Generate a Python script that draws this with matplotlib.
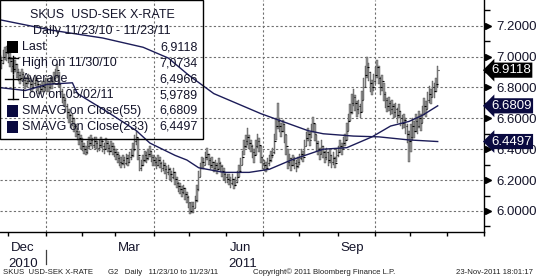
import numpy as np
import pandas as pd
import matplotlib
matplotlib.use("Agg")
import matplotlib.pyplot as plt
from matplotlib.patches import Rectangle

plt.rcParams['font.family'] = ['Liberation Sans', 'DejaVu Sans']

# daily bars 11/23/10 - 11/23/11 (weekdays)
close = [
    6.93, 6.98, 6.96, 7.00, 7.03, 7.02,
    7.00, 6.97, 6.94, 6.92, 6.95, 6.90, 6.88, 6.86, 6.89, 6.85, 6.83, 6.84, 6.86, 6.82, 6.80, 6.83, 6.85, 6.82, 6.80, 6.79, 6.81, 6.80, 6.82,
    6.82, 6.80, 6.84, 6.83, 6.86, 6.88, 6.91, 6.82, 6.78, 6.74, 6.72, 6.68, 6.64, 6.62, 6.58, 6.60, 6.55, 6.52, 6.50, 6.47, 6.45,
    6.42, 6.40, 6.38, 6.42, 6.44, 6.46, 6.43, 6.45, 6.44, 6.41, 6.43, 6.45, 6.42, 6.40, 6.44, 6.41, 6.39, 6.42, 6.40, 6.38,
    6.37, 6.34, 6.32, 6.31, 6.33, 6.31, 6.34, 6.32, 6.35, 6.36, 6.40, 6.45, 6.48, 6.36, 6.28, 6.30, 6.33, 6.36, 6.34, 6.37, 6.39, 6.35, 6.33,
    6.32, 6.30, 6.33, 6.31, 6.28, 6.30, 6.27, 6.25, 6.27, 6.24, 6.22, 6.25, 6.21, 6.18, 6.16, 6.14, 6.12, 6.15, 6.11, 6.09, 6.06,
    6.00, 6.03, 6.02, 6.07, 6.14, 6.22, 6.28, 6.32, 6.30, 6.35, 6.37, 6.33, 6.30, 6.32, 6.28, 6.30, 6.27, 6.31, 6.29, 6.26, 6.24, 6.22,
    6.21, 6.20, 6.18, 6.21, 6.17, 6.19, 6.22, 6.26, 6.30, 6.35, 6.42, 6.45, 6.48, 6.44, 6.42, 6.38, 6.36, 6.42, 6.45, 6.43, 6.35, 6.31,
    6.30, 6.28, 6.31, 6.33, 6.36, 6.38, 6.45, 6.55, 6.58, 6.55, 6.52, 6.56, 6.50, 6.42, 6.32, 6.34, 6.30, 6.33, 6.31, 6.29, 6.32,
    6.34, 6.37, 6.35, 6.42, 6.47, 6.50, 6.46, 6.52, 6.57, 6.50, 6.44, 6.40, 6.37, 6.42, 6.38, 6.35, 6.38, 6.33, 6.36, 6.32, 6.34, 6.31, 6.36,
    6.38, 6.42, 6.40, 6.44, 6.46, 6.52, 6.58, 6.64, 6.70, 6.74, 6.70, 6.66, 6.68, 6.64, 6.72, 6.80, 6.88, 6.93, 6.90, 6.83, 6.80, 6.84,
    6.88, 6.93, 6.86, 6.80, 6.84, 6.76, 6.72, 6.68, 6.70, 6.66, 6.68, 6.64, 6.66, 6.62, 6.65, 6.60, 6.57, 6.59, 6.55, 6.50, 6.45,
    6.48, 6.55, 6.52, 6.58, 6.55, 6.60, 6.57, 6.63, 6.68, 6.66, 6.72, 6.76, 6.74, 6.80, 6.78, 6.82, 6.9118,
]
high = [
    6.97, 7.01, 7.00, 7.04, 7.06, 7.07,
    7.04, 7.02, 6.99, 6.96, 6.98, 6.95, 6.92, 6.90, 6.92, 6.90, 6.87, 6.87, 6.89, 6.87, 6.84, 6.86, 6.88, 6.86, 6.84, 6.82, 6.84, 6.84, 6.86,
    6.86, 6.84, 6.87, 6.87, 6.90, 6.92, 6.95, 6.90, 6.83, 6.79, 6.76, 6.73, 6.69, 6.66, 6.63, 6.63, 6.60, 6.56, 6.54, 6.52, 6.49,
    6.47, 6.44, 6.42, 6.45, 6.48, 6.49, 6.47, 6.48, 6.48, 6.45, 6.46, 6.48, 6.46, 6.44, 6.47, 6.45, 6.43, 6.45, 6.44, 6.42,
    6.40, 6.38, 6.36, 6.35, 6.36, 6.35, 6.37, 6.36, 6.38, 6.40, 6.44, 6.49, 6.52, 6.47, 6.35, 6.33, 6.36, 6.39, 6.38, 6.40, 6.42, 6.39, 6.36,
    6.35, 6.34, 6.36, 6.35, 6.32, 6.33, 6.31, 6.29, 6.30, 6.28, 6.26, 6.28, 6.25, 6.22, 6.19, 6.18, 6.16, 6.17, 6.15, 6.12, 6.10,
    6.05, 6.06, 6.06, 6.10, 6.17, 6.26, 6.31, 6.35, 6.34, 6.38, 6.41, 6.37, 6.34, 6.35, 6.32, 6.33, 6.31, 6.34, 6.32, 6.30, 6.28, 6.25,
    6.24, 6.24, 6.22, 6.24, 6.21, 6.22, 6.26, 6.30, 6.34, 6.39, 6.46, 6.49, 6.54, 6.49, 6.46, 6.43, 6.40, 6.46, 6.50, 6.47, 6.42, 6.35,
    6.33, 6.32, 6.34, 6.36, 6.39, 6.41, 6.50, 6.60, 6.70, 6.60, 6.57, 6.59, 6.56, 6.49, 6.40, 6.37, 6.34, 6.36, 6.35, 6.33, 6.35,
    6.37, 6.40, 6.39, 6.46, 6.51, 6.54, 6.51, 6.56, 6.61, 6.56, 6.49, 6.45, 6.41, 6.46, 6.42, 6.39, 6.41, 6.38, 6.40, 6.36, 6.38, 6.35, 6.40,
    6.42, 6.46, 6.44, 6.48, 6.50, 6.57, 6.63, 6.69, 6.76, 6.79, 6.75, 6.71, 6.72, 6.69, 6.78, 6.86, 6.94, 7.00, 6.96, 6.90, 6.85, 6.89,
    6.93, 6.98, 6.94, 6.87, 6.88, 6.83, 6.77, 6.73, 6.74, 6.71, 6.72, 6.69, 6.70, 6.67, 6.69, 6.65, 6.62, 6.63, 6.60, 6.56, 6.52,
    6.56, 6.60, 6.58, 6.63, 6.61, 6.65, 6.63, 6.68, 6.73, 6.71, 6.77, 6.81, 6.79, 6.84, 6.83, 6.86, 6.94,
]
low = [
    6.88, 6.92, 6.92, 6.95, 6.98, 6.97,
    6.96, 6.93, 6.90, 6.88, 6.90, 6.86, 6.84, 6.82, 6.84, 6.81, 6.79, 6.80, 6.82, 6.78, 6.77, 6.79, 6.81, 6.78, 6.76, 6.76, 6.77, 6.77, 6.78,
    6.77, 6.77, 6.79, 6.79, 6.82, 6.84, 6.86, 6.80, 6.75, 6.70, 6.68, 6.64, 6.60, 6.57, 6.54, 6.55, 6.51, 6.48, 6.46, 6.43, 6.40,
    6.39, 6.37, 6.36, 6.37, 6.40, 6.42, 6.40, 6.41, 6.40, 6.38, 6.39, 6.41, 6.38, 6.37, 6.40, 6.38, 6.36, 6.38, 6.36, 6.35,
    6.33, 6.31, 6.29, 6.28, 6.30, 6.28, 6.30, 6.29, 6.31, 6.33, 6.35, 6.39, 6.43, 6.33, 6.26, 6.26, 6.29, 6.32, 6.31, 6.33, 6.35, 6.32, 6.29,
    6.29, 6.27, 6.29, 6.28, 6.25, 6.26, 6.24, 6.21, 6.23, 6.20, 6.19, 6.21, 6.17, 6.15, 6.12, 6.11, 6.09, 6.11, 6.07, 6.05, 6.02,
    5.98, 5.99, 5.99, 6.02, 6.06, 6.13, 6.22, 6.27, 6.27, 6.30, 6.33, 6.30, 6.27, 6.28, 6.25, 6.26, 6.24, 6.27, 6.25, 6.22, 6.20, 6.18,
    6.18, 6.17, 6.15, 6.17, 6.14, 6.16, 6.18, 6.22, 6.26, 6.30, 6.36, 6.41, 6.43, 6.40, 6.38, 6.34, 6.31, 6.36, 6.41, 6.38, 6.31, 6.27,
    6.26, 6.25, 6.27, 6.29, 6.32, 6.34, 6.37, 6.46, 6.53, 6.51, 6.48, 6.51, 6.44, 6.36, 6.27, 6.29, 6.26, 6.29, 6.27, 6.25, 6.28,
    6.30, 6.33, 6.32, 6.36, 6.42, 6.45, 6.42, 6.47, 6.51, 6.45, 6.39, 6.36, 6.33, 6.37, 6.34, 6.31, 6.33, 6.29, 6.31, 6.28, 6.30, 6.28, 6.32,
    6.35, 6.38, 6.36, 6.40, 6.42, 6.46, 6.52, 6.58, 6.63, 6.68, 6.65, 6.61, 6.63, 6.60, 6.64, 6.72, 6.80, 6.86, 6.84, 6.77, 6.75, 6.78,
    6.82, 6.86, 6.82, 6.75, 6.78, 6.71, 6.67, 6.64, 6.65, 6.62, 6.63, 6.60, 6.61, 6.57, 6.60, 6.55, 6.53, 6.54, 6.50, 6.44, 6.32,
    6.38, 6.46, 6.47, 6.51, 6.50, 6.54, 6.52, 6.57, 6.62, 6.61, 6.66, 6.70, 6.69, 6.74, 6.73, 6.77, 6.80,
]

# moving averages, points (bar index, value)
sma55_idx = [0, 16, 29, 44, 47, 65, 82, 90, 105, 112, 119, 134, 149, 161, 174, 193, 207, 222, 233, 244, 252, 261]
sma55_val = [6.80, 6.78, 6.82, 6.83, 6.76, 6.64, 6.52, 6.44, 6.36, 6.33, 6.28, 6.25, 6.25, 6.27, 6.33, 6.40, 6.41,
             6.48, 6.55, 6.58, 6.62, 6.6809]
sma233_idx = [0, 32, 62, 86, 101, 113, 128, 156, 184, 193, 211, 226, 244, 261]
sma233_val = [7.24, 7.17, 7.12, 7.06, 6.99, 6.88, 6.76, 6.63, 6.52, 6.50, 6.485, 6.48, 6.46, 6.4497]

last_val = 6.9118
y_ticks = [6.0, 6.2, 6.4, 6.6, 6.8, 7.0, 7.2]

legend_rows = [("Last", "6,9118"), ("High on 11/30/10", "7,0734"), ("Average", "6,4966"),
               ("Low on 05/02/11", "5,9789"), ("SMAVG on Close(55)", "6,6809"),
               ("SMAVG on Close(233)", "6,4497")]

dates = pd.bdate_range("2010-11-23", "2011-12-31")
x = np.arange(len(close))

W, H = 536, 280
fig = plt.figure(figsize=(W / 100, H / 100), dpi=100)
ax = fig.add_axes([0, 1 - 232 / H, 484 / W, 232 / H])

navy = "#1c1c58"
txt = "#14142a"

# grid
for v in y_ticks:
    ax.axhline(v, color="#707070", lw=0.8, ls=(0, (2, 2)), zorder=0)
month_start = [i for i in range(1, len(dates)) if dates[i].month != dates[i - 1].month]
for i in month_start:
    if dates[i].month in (1, 4, 7, 10):
        ax.axvline(i - 0.5, color="#707070", lw=0.8, ls=(0, (2, 2)), zorder=0)

# bars
hi = np.array(high)
lo = np.array(low)
ax.bar(x, hi - lo, bottom=lo, width=0.9, color="#9a9a9a", edgecolor="#303030", linewidth=0.25, zorder=2)
ax.hlines(close, x, x + 0.9, color="black", lw=0.8, zorder=3)

ax.plot(sma55_idx, sma55_val, color=navy, lw=1.0, zorder=4)
ax.plot(sma233_idx, sma233_val, color=navy, lw=1.0, zorder=4)

ax.set_xlim(1.0, 268.7)
ax.set_ylim(5.864, 7.366)

for s in ("top", "left"):
    ax.spines[s].set_visible(False)
for s in ("right", "bottom"):
    ax.spines[s].set_linewidth(1.0)

# y axis on the right
ax.yaxis.tick_right()
ax.set_yticks(y_ticks)
ax.set_yticklabels([f"{v:.4f}" for v in y_ticks], fontsize=9.5, color=txt)
ax.set_yticks(np.arange(5.9, 7.4, 0.2), minor=True)
ax.tick_params(axis="y", which="major", length=0, pad=9)
ax.tick_params(axis="y", which="minor", length=4, width=1, direction="out")
ax.plot([1.0 + 4 / 484] * len(y_ticks), y_ticks, ls="none", marker=">", ms=5, color="black",
        transform=ax.get_yaxis_transform(), clip_on=False)

# x axis: month ticks, labels mid-month
ax.set_xticks([i - 0.5 for i in month_start] + [len(dates) - 0.5])
ax.set_xticklabels([])
ax.tick_params(axis="x", length=3, width=1, direction="out")
xt = ax.get_xaxis_transform()
for i in month_start:
    if dates[i].month in (3, 6, 9):
        ax.text(i + 8, -0.045, dates[i].strftime("%b"), transform=xt, ha="center", va="top",
                fontsize=9.5, color=txt)
ax.text(14.5, -0.045, "Dec", transform=xt, ha="center", va="top", fontsize=9.5, color=txt)
ax.text(14.5, -0.11, "2010", transform=xt, ha="center", va="top", fontsize=9.5, color=txt)
ax.text(145, -0.11, "2011", transform=xt, ha="center", va="top", fontsize=9.5, color=txt)
ax.plot([28.5, 28.5], [-0.078, -0.14], color="#404040", lw=0.9, transform=xt, clip_on=False)

# value boxes at the right edge
for v, fc in ((last_val, "black"), (sma55_val[-1], "#0a0a40"), (sma233_val[-1], "#0a0a40")):
    ax.text(1.0 + 7 / 484, v, f"{v:.4f}", transform=ax.get_yaxis_transform(), ha="left", va="center",
            fontsize=9.5, color="white", zorder=10, clip_on=False,
            bbox=dict(boxstyle="larrow,pad=0.12", fc=fc, ec="none"))

# legend block (pixel coordinates)
def fx(px):
    return px / W

def fy(py):
    return 1 - py / H

fig.patches.append(Rectangle((fx(0), fy(139)), fx(203), 139 / H, fill=False, ec="black", lw=1.0,
                             transform=fig.transFigure))
fig.text(fx(102), fy(15), "SKUS  USD-SEK X-RATE", ha="center", va="center", fontsize=9, color=txt)
fig.text(fx(102), fy(31), "Daily 11/23/10 - 11/23/11", ha="center", va="center", fontsize=9, color=txt)
for k, (lab, val) in enumerate(legend_rows):
    yy = 47 + 16 * k
    fig.text(fx(22), fy(yy), lab, ha="left", va="center", fontsize=9, color=txt)
    fig.text(fx(198), fy(yy), val, ha="right", va="center", fontsize=9, color=txt)

fig.patches.append(Rectangle((fx(7), fy(53)), fx(11), 12 / H, fc="black", ec="none", transform=fig.transFigure))
fig.patches.append(Rectangle((fx(7), fy(117)), fx(11), 12 / H, fc="#0a0a40", ec="none", transform=fig.transFigure))
fig.patches.append(Rectangle((fx(7), fy(133)), fx(11), 12 / H, fc="#0a0a40", ec="none", transform=fig.transFigure))
icon = dict(color="black", lw=1.0, transform=fig.transFigure)
fig.lines.append(plt.Line2D([fx(13), fx(13)], [fy(56), fy(73)], **icon))
fig.lines.append(plt.Line2D([fx(8), fx(18)], [fy(58), fy(58)], **icon))
fig.lines.append(plt.Line2D([fx(5), fx(20)], [fy(79), fy(79)], **icon))
fig.lines.append(plt.Line2D([fx(13), fx(13)], [fy(75), fy(84)], **icon))
fig.lines.append(plt.Line2D([fx(13), fx(13)], [fy(85), fy(99)], **icon))
fig.lines.append(plt.Line2D([fx(8), fx(18)], [fy(99), fy(99)], **icon))

# footer
foot = dict(fontsize=5.6, color="#202020", va="center")
fig.text(fx(3), fy(272), "SKUS  USD-SEK X-RATE", ha="left", **foot)
fig.text(fx(108), fy(272), "G2   Daily   11/23/10 to 11/23/11", ha="left", **foot)
fig.text(fx(253), fy(272), "Copyright\u00a9 2011 Bloomberg Finance L.P.", ha="left", **foot)
fig.text(fx(533), fy(272), "23-Nov-2011 18:01:17", ha="right", **foot)

fig.savefig("out.png", dpi=100)
